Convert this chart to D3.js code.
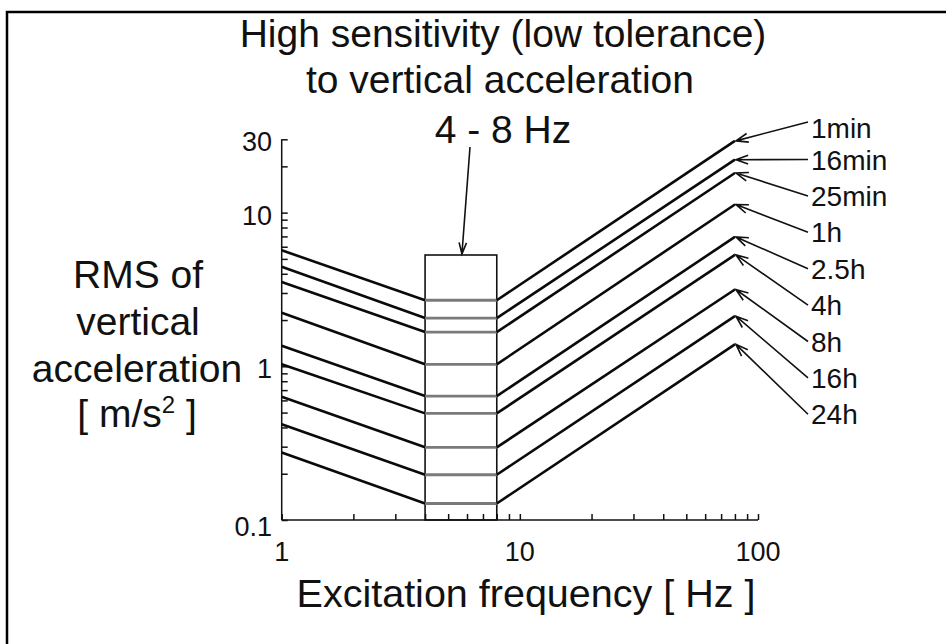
<!DOCTYPE html>
<html><head><meta charset="utf-8">
<script src="https://cdn.jsdelivr.net/npm/d3@7"></script>
<style>
html,body{margin:0;padding:0;background:#fff;}
svg{display:block;font-family:"Liberation Sans",Arial,Helvetica,sans-serif;}
</style></head>
<body>
<svg id="chart" width="946" height="644"></svg>
<script>
// ---- data ----
const durations = ["1min","16min","25min","1h","2.5h","4h","8h","16h","24h"];
const valueAt1Hz   = [5.69, 4.44, 3.54, 2.23, 1.36, 1.03, 0.634, 0.42, 0.275];
const valueAt4to8  = [2.69, 2.06, 1.67, 1.03, 0.64, 0.494, 0.297, 0.197, 0.128];
const valueAt80Hz  = [29.3, 22.1, 18.1, 11.3, 6.95, 5.31, 3.16, 2.12, 1.39];
const freqPoints   = [1, 4, 8, 80];
const bandRange    = [4, 8];
const bandTop      = 5.3;
const xTickLabels  = ["1","10","100"];
const yTickLabels  = ["0.1","1","10","30"];
const titleLines   = ["High sensitivity (low tolerance)","to vertical acceleration","4 - 8 Hz"];

// ---- layout ----
const svg = d3.select("#chart");
const x = d3.scaleLog().domain([1,100]).range([281.7,758]);
const y = d3.scaleLog().domain([0.1,30]).range([520,139.3]);

// outer frame
svg.append("rect").attr("x",7).attr("y",12).attr("width",960).attr("height",700)
  .attr("fill","none").attr("stroke","#000").attr("stroke-width",2.5);

// axes
const xTicksAll = [];
[1,10].forEach(d=>{for(let k=1;k<10;k++) xTicksAll.push(d*k);});
xTicksAll.push(100);
const yTicksAll = [];
[0.1,1].forEach(d=>{for(let k=1;k<10;k++) yTicksAll.push(+(d*k).toFixed(2));});
yTicksAll.push(10,20,30);

const xAxis = d3.axisTop(x).tickValues(xTicksAll).tickSize(6).tickFormat("");
const gx = svg.append("g").attr("transform",`translate(0,${y(0.1)})`).call(xAxis);
gx.select(".domain").attr("d",`M${x(1)},0H${x(100)}`);
gx.selectAll("path,line").attr("stroke","#111").attr("stroke-width",1.5);

const yAxis = d3.axisRight(y).tickValues(yTicksAll).tickSize(6).tickFormat("");
const gy = svg.append("g").attr("transform",`translate(${x(1)},0)`).call(yAxis);
gy.select(".domain").attr("d",`M0,${y(0.1)}V${y(30)}`);
gy.selectAll("path,line").attr("stroke","#111").attr("stroke-width",1.5);

// tick labels
svg.append("g").selectAll("text").data(xTickLabels).join("text")
  .attr("x",d=>x(+d)).attr("y",561).attr("text-anchor","middle")
  .attr("font-size",27).attr("fill","#111").text(d=>d);
svg.append("g").selectAll("text").data(yTickLabels).join("text")
  .attr("x",272).attr("y",d=>y(+d)+ (d==="0.1"?16:12)).attr("text-anchor","end")
  .attr("font-size",27).attr("fill","#111").text(d=>d);

// 4-8 Hz box
svg.append("rect")
  .attr("x",x(bandRange[0])).attr("y",y(bandTop))
  .attr("width",x(bandRange[1])-x(bandRange[0])).attr("height",y(0.1)-y(bandTop))
  .attr("fill","none").attr("stroke","#111").attr("stroke-width",1.6);

// series lines
const line = d3.line().x(d=>x(d[0])).y(d=>y(d[1]));
durations.forEach((name,i)=>{
  svg.append("path").attr("d",line([[freqPoints[0],valueAt1Hz[i]],[freqPoints[1],valueAt4to8[i]]]))
    .attr("fill","none").attr("stroke","#0a0a0a").attr("stroke-width",2.6);
  svg.append("path").attr("d",line([[freqPoints[1],valueAt4to8[i]],[freqPoints[2],valueAt4to8[i]]]))
    .attr("fill","none").attr("stroke","#7a7a7a").attr("stroke-width",2.8);
  svg.append("path").attr("d",line([[freqPoints[2],valueAt4to8[i]],[freqPoints[3],valueAt80Hz[i]]]))
    .attr("fill","none").attr("stroke","#0a0a0a").attr("stroke-width",2.6);
});

// open arrow helper
function arrow(x1,y1,x2,y2,len=13,ang=20){
  const a = Math.atan2(y1-y2,x1-x2), r = ang*Math.PI/180;
  const p = `M${x1},${y1}L${x2},${y2}`+
    `M${x2+len*Math.cos(a+r)},${y2+len*Math.sin(a+r)}L${x2},${y2}L${x2+len*Math.cos(a-r)},${y2+len*Math.sin(a-r)}`;
  svg.append("path").attr("d",p).attr("fill","none").attr("stroke","#111").attr("stroke-width",1.6);
}

// duration labels with arrows
durations.forEach((name,i)=>{
  const base = i===0 ? 138 : 169.5 + (i-1)*36.4;
  svg.append("text").attr("x",811).attr("y",base).attr("font-size",28).attr("fill","#111").text(name);
  const tailY = i===0 ? base-16 : base-10;
  arrow(808, tailY, x(freqPoints[3])+1, y(valueAt80Hz[i]));
});

// titles
const tx = 503;
svg.append("text").attr("x",tx).attr("y",47).attr("text-anchor","middle").attr("font-size",39).attr("fill","#111").text(titleLines[0]);
svg.append("text").attr("x",500).attr("y",93).attr("text-anchor","middle").attr("font-size",39).attr("fill","#111").text(titleLines[1]);
svg.append("text").attr("x",503).attr("y",143).attr("text-anchor","middle").attr("font-size",39).attr("fill","#111").text(titleLines[2]);
arrow(470,147,(x(bandRange[0])+x(bandRange[1]))/2+1,y(bandTop)-1,12,18);

// y label
const yl = svg.append("g").attr("font-size",39).attr("fill","#111").attr("text-anchor","middle");
yl.append("text").attr("x",138).attr("y",288).text("RMS of");
yl.append("text").attr("x",138).attr("y",335).text("vertical");
yl.append("text").attr("x",137).attr("y",381.5).text("acceleration");
const u = yl.append("text").attr("x",137).attr("y",427);
u.append("tspan").text("[ m/s");
u.append("tspan").attr("font-size",24).attr("dy",-14).text("2");
u.append("tspan").attr("dy",14).text(" ]");

// x label
svg.append("text").attr("x",526).attr("y",606.5).attr("text-anchor","middle")
  .attr("font-size",39.5).attr("fill","#111").text("Excitation frequency [ Hz ]");
</script>
</body></html>
